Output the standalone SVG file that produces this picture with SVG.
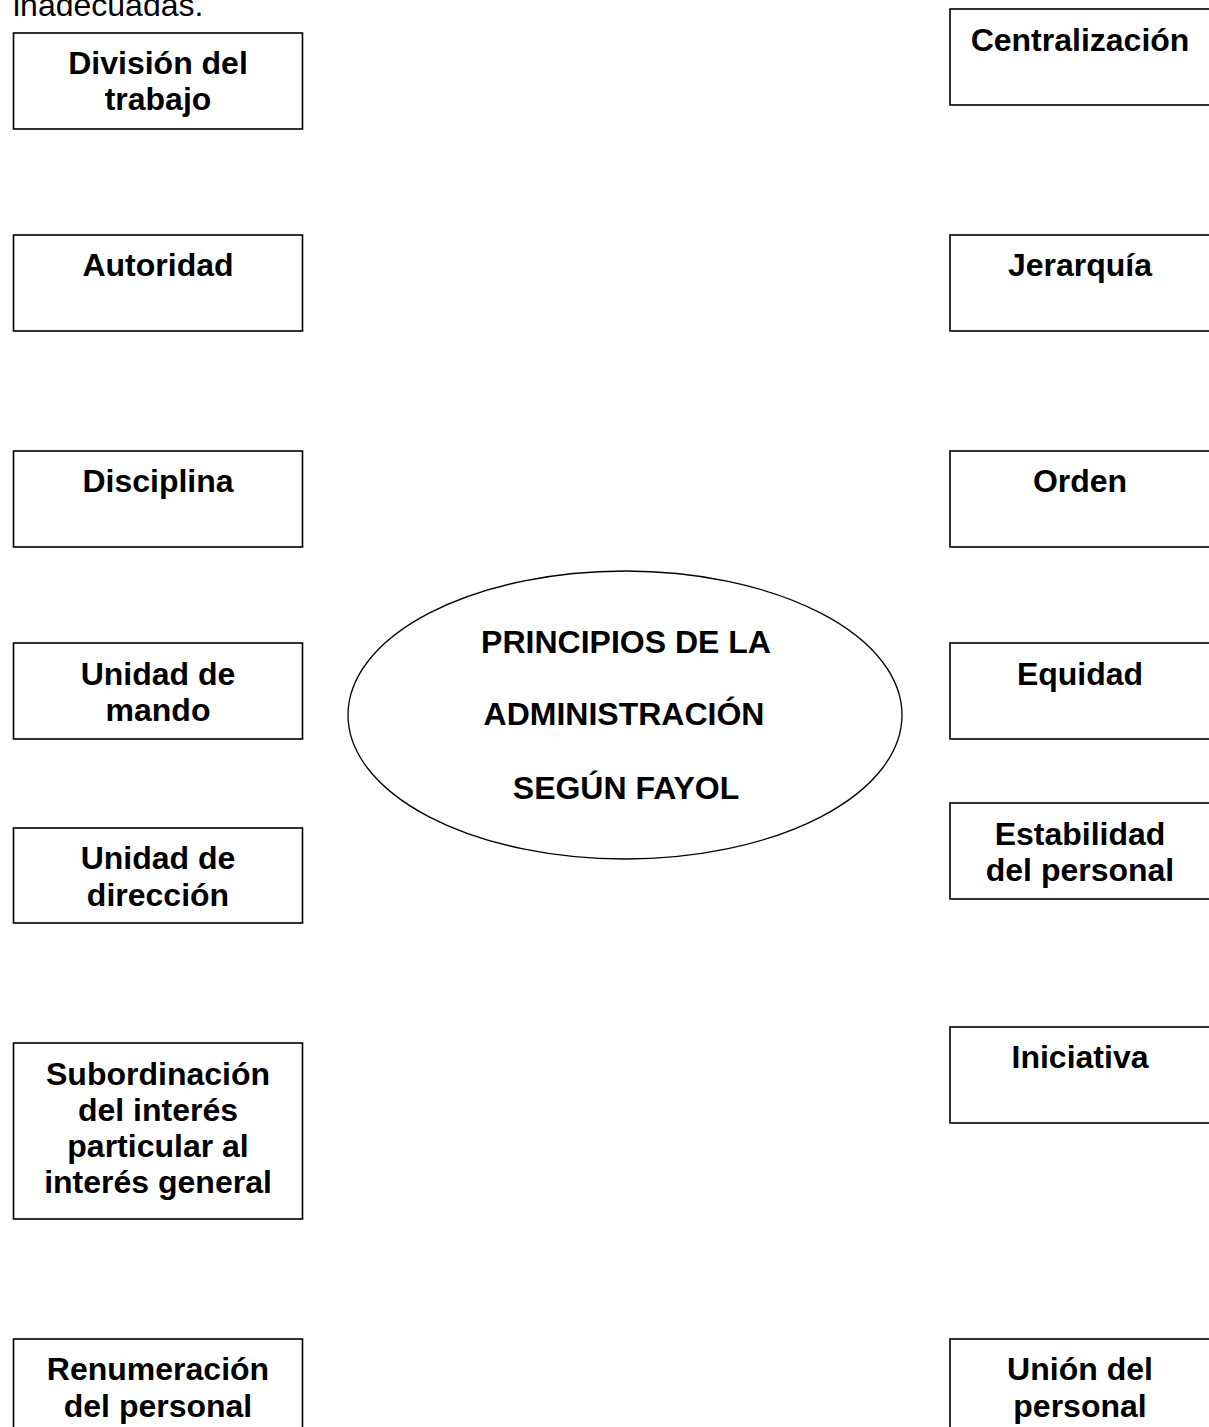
<svg xmlns="http://www.w3.org/2000/svg" width="1209" height="1427" viewBox="0 0 1209 1427">
<style>
.box{fill:#fff;stroke:#000;stroke-width:1.6}
.t{font-family:"Liberation Sans",Arial,sans-serif;font-size:32px;font-weight:bold;fill:#000;text-anchor:middle}
.r{font-family:"Liberation Sans",Arial,sans-serif;font-size:32px;fill:#000}
</style>
<rect width="1209" height="1427" fill="#fff"/>
<text class="r" x="13" y="16">inadecuadas.</text>
<g id="connectors"></g>
<g id="n-division"><rect class="box" x="13.5" y="33" width="289" height="96"/><text class="t" x="158" y="74">División del</text><text class="t" x="158" y="110">trabajo</text></g>
<g id="n-autoridad"><rect class="box" x="13.5" y="235" width="289" height="96"/><text class="t" x="158" y="276">Autoridad</text></g>
<g id="n-disciplina"><rect class="box" x="13.5" y="451" width="289" height="96"/><text class="t" x="158" y="492">Disciplina</text></g>
<g id="n-mando"><rect class="box" x="13.5" y="643" width="289" height="96"/><text class="t" x="158" y="685">Unidad de</text><text class="t" x="158" y="721">mando</text></g>
<g id="n-direccion"><rect class="box" x="13.5" y="828" width="289" height="95"/><text class="t" x="158" y="869">Unidad de</text><text class="t" x="158" y="906">dirección</text></g>
<g id="n-subordinacion"><rect class="box" x="13.5" y="1043" width="289" height="176"/><text class="t" x="158" y="1085">Subordinación</text><text class="t" x="158" y="1121">del interés</text><text class="t" x="158" y="1157">particular al</text><text class="t" x="158" y="1193">interés general</text></g>
<g id="n-renumeracion"><rect class="box" x="13.5" y="1339" width="289" height="120"/><text class="t" x="158" y="1380">Renumeración</text><text class="t" x="158" y="1417">del personal</text></g>
<g id="n-centralizacion"><rect class="box" x="950" y="9" width="265" height="96"/><text class="t" x="1080" y="51">Centralización</text></g>
<g id="n-jerarquia"><rect class="box" x="950" y="235" width="265" height="96"/><text class="t" x="1080" y="276">Jerarquía</text></g>
<g id="n-orden"><rect class="box" x="950" y="451" width="265" height="96"/><text class="t" x="1080" y="492">Orden</text></g>
<g id="n-equidad"><rect class="box" x="950" y="643" width="265" height="96"/><text class="t" x="1080" y="685">Equidad</text></g>
<g id="n-estabilidad"><rect class="box" x="950" y="803" width="265" height="96"/><text class="t" x="1080" y="845">Estabilidad</text><text class="t" x="1080" y="881">del personal</text></g>
<g id="n-iniciativa"><rect class="box" x="950" y="1027" width="265" height="96"/><text class="t" x="1080" y="1068">Iniciativa</text></g>
<g id="n-union"><rect class="box" x="950" y="1339" width="265" height="120"/><text class="t" x="1080" y="1380">Unión del</text><text class="t" x="1080" y="1417">personal</text></g>
<g id="n-centro"><ellipse cx="625" cy="715" rx="277" ry="144" fill="#fff" stroke="#000" stroke-width="1.3"/><text class="t" x="626" y="653">PRINCIPIOS DE LA</text><text class="t" x="624" y="725">ADMINISTRACIÓN</text><text class="t" x="626" y="799">SEGÚN FAYOL</text></g>
</svg>
